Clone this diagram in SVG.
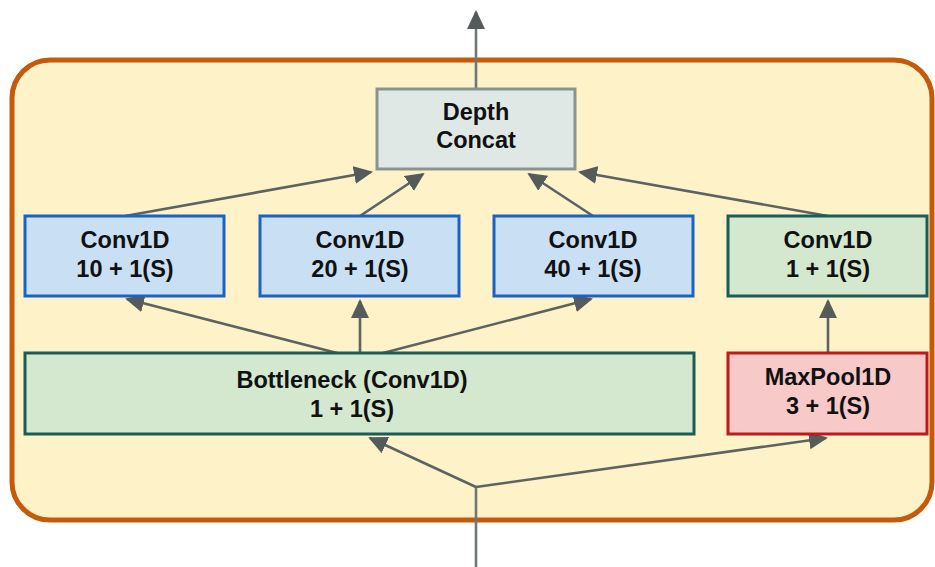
<svg xmlns="http://www.w3.org/2000/svg" width="935" height="567" viewBox="0 0 935 567">
  <style>
    .lbl { font-family: "Liberation Sans", Arial, sans-serif; font-weight: bold; font-size: 23.5px; fill: #111; text-anchor: middle; }
    .blue { fill: #C9DFF4; stroke: #1A62C6; stroke-width: 3; }
    .green { fill: #D3E8CF; stroke: #1B5C58; stroke-width: 3; }
    .red { fill: #F7C9C8; stroke: #C0191B; stroke-width: 3; }
    .gray { fill: #E0E8E5; stroke: #8B9390; stroke-width: 3; }
    .edge { fill: none; stroke: #5D6363; stroke-width: 2.6; marker-end: url(#arrow); }
    .io { fill: none; stroke: #6F7777; stroke-width: 2.6; }
  </style>
  <defs>
    <marker id="arrow" markerUnits="userSpaceOnUse" markerWidth="20" markerHeight="20" viewBox="0 0 20 20" refX="17" refY="9.5" orient="auto">
      <path d="M0,0.5 L19,9.5 L0,18.5 z" fill="#555B5B"/>
    </marker>
  </defs>

  <!-- inception module frame -->
  <rect x="12" y="60" width="920" height="460" rx="38" ry="38" fill="#FEF2C8" stroke="#C45A0A" stroke-width="5"/>

  <g id="connectors">
    <!-- module input / output -->
    <path class="io" d="M476,567 L476,487"/>
    <path class="io" d="M476,89 L476,12" marker-end="url(#arrow)"/>
    <path class="edge" d="M476,487 L370,438"/>
    <path class="edge" d="M476,487 L826,438"/>
    <!-- bottleneck to parallel convolutions -->
    <path class="edge" d="M337,353 L127,299"/>
    <path class="edge" d="M360,353 L360,301"/>
    <path class="edge" d="M383,353 L591,299"/>
    <!-- pooling branch -->
    <path class="edge" d="M828,353 L828,301"/>
    <!-- branches into concatenation -->
    <path class="edge" d="M125,216 L371,172"/>
    <path class="edge" d="M360,216 L423,174"/>
    <path class="edge" d="M593,216 L529,174"/>
    <path class="edge" d="M828,216 L580,172"/>
  </g>

  <g id="depth-concat">
    <rect class="gray" x="377" y="89" width="198" height="80"/>
    <text class="lbl" x="476" y="120">Depth</text>
    <text class="lbl" x="476" y="148">Concat</text>
  </g>

  <g id="conv-10">
    <rect class="blue" x="25" y="216" width="199" height="80"/>
    <text class="lbl" x="125" y="248">Conv1D</text>
    <text class="lbl" x="125" y="277">10 + 1(S)</text>
  </g>

  <g id="conv-20">
    <rect class="blue" x="260" y="216" width="199" height="80"/>
    <text class="lbl" x="360" y="248">Conv1D</text>
    <text class="lbl" x="360" y="277">20 + 1(S)</text>
  </g>

  <g id="conv-40">
    <rect class="blue" x="494" y="216" width="199" height="80"/>
    <text class="lbl" x="593" y="248">Conv1D</text>
    <text class="lbl" x="593" y="277">40 + 1(S)</text>
  </g>

  <g id="conv-1">
    <rect class="green" x="728" y="216" width="199" height="80"/>
    <text class="lbl" x="828" y="248">Conv1D</text>
    <text class="lbl" x="828" y="277">1 + 1(S)</text>
  </g>

  <g id="bottleneck">
    <rect class="green" x="25" y="353" width="669" height="81"/>
    <text class="lbl" x="352" y="388">Bottleneck (Conv1D)</text>
    <text class="lbl" x="352" y="417">1 + 1(S)</text>
  </g>

  <g id="maxpool">
    <rect class="red" x="728" y="353" width="199" height="81"/>
    <text class="lbl" x="828" y="385">MaxPool1D</text>
    <text class="lbl" x="828" y="414">3 + 1(S)</text>
  </g>
</svg>
